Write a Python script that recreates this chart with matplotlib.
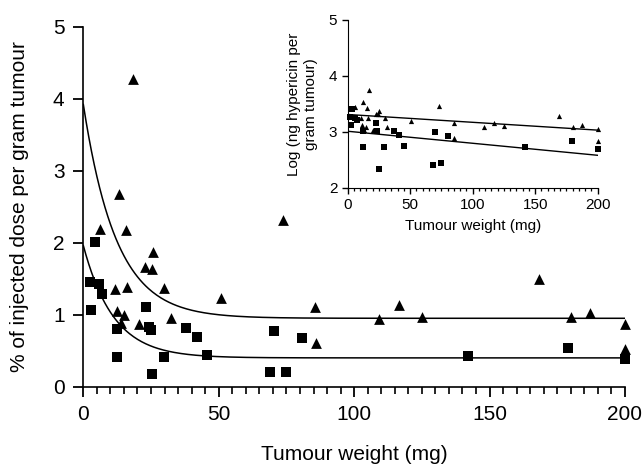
import matplotlib
matplotlib.use("Agg")
import matplotlib.pyplot as plt
from matplotlib.ticker import MultipleLocator
import numpy as np

plt.rcParams["font.family"] = ["Liberation Sans", "DejaVu Sans"]

# main panel: % of injected dose per gram tumour
tri_x = [18.2, 13.2, 6.2, 15.6, 73.6, 25.6, 22.9, 25.2, 11.6, 16.2, 29.8, 50.8,
         12.3, 15.1, 13.8, 20.7, 32.4, 85.4, 85.9, 109.1, 116.6, 125.0, 168.4,
         180.0, 186.9, 199.9, 199.9]
tri_y = [4.27, 2.67, 2.19, 2.17, 2.32, 1.87, 1.66, 1.63, 1.36, 1.38, 1.37, 1.23,
         1.05, 0.99, 0.88, 0.87, 0.95, 1.10, 0.61, 0.94, 1.14, 0.97, 1.50,
         0.97, 1.02, 0.87, 0.53]
sq_x = [4.3, 2.5, 5.7, 6.8, 2.8, 23.0, 12.5, 24.4, 25.0, 37.8, 41.8, 45.5,
        12.5, 29.8, 25.2, 70.4, 80.6, 68.9, 75.0, 142.1, 179.1, 199.9]
sq_y = [2.01, 1.45, 1.42, 1.29, 1.06, 1.11, 0.80, 0.83, 0.79, 0.81, 0.69, 0.44,
        0.41, 0.41, 0.17, 0.78, 0.67, 0.20, 0.21, 0.42, 0.54, 0.39]

# fitted decay curves: plateau, span, rate
tri_fit = (0.95, 2.97, 0.082)
sq_fit = (0.40, 1.56, 0.090)

# inset: log (ng hypericin per gram tumour)
in_tri_x = [17.3, 12.5, 5.8, 15.2, 25.0, 22.6, 24.4, 10.6, 16.0, 29.6, 11.7, 14.4,
            13.3, 20.0, 31.7, 50.4, 73.3, 85.3, 85.3, 109.0, 116.8, 125.0, 168.8,
            180.0, 187.2, 200.0, 200.0]
in_tri_y = [3.74, 3.53, 3.44, 3.43, 3.37, 3.31, 3.31, 3.24, 3.24, 3.24, 3.12, 3.09,
            3.04, 3.04, 3.09, 3.19, 3.47, 3.15, 2.89, 3.08, 3.16, 3.10, 3.28,
            3.09, 3.12, 3.05, 2.83]
in_sq_x = [2.1, 3.7, 2.4, 5.8, 7.2, 12.0, 12.0, 22.6, 23.7, 24.8, 29.0, 37.3,
           41.0, 45.0, 69.8, 68.5, 74.6, 80.2, 141.8, 179.4, 200.0]
in_sq_y = [3.27, 3.40, 3.13, 3.24, 3.22, 3.01, 2.72, 3.15, 3.01, 2.34, 2.72, 3.02,
           2.95, 2.75, 3.00, 2.41, 2.44, 2.93, 2.73, 2.84, 2.70]
in_tri_line = (3.31, 3.03)   # value at 0 and at 200 mg
in_sq_line = (3.01, 2.58)

fig = plt.figure(figsize=(6.42, 4.65), dpi=100)
ax = fig.add_axes([0.1298, 0.1684, 0.8437, 0.7742])

xs = np.linspace(0, 200, 400)
for p in (tri_fit, sq_fit):
    ax.plot(xs, p[0] + p[1] * np.exp(-p[2] * xs), color="black", lw=1.1, zorder=2)
ax.scatter(tri_x, tri_y, marker="^", s=60, color="black", linewidths=0, zorder=3, clip_on=False)
ax.scatter(sq_x, sq_y, marker="s", s=60, color="black", linewidths=0, zorder=3, clip_on=False)

ax.set_xlim(0, 200)
ax.set_ylim(0, 5)
ax.xaxis.set_major_locator(MultipleLocator(50))
ax.xaxis.set_minor_locator(MultipleLocator(5))
ax.yaxis.set_major_locator(MultipleLocator(1))
for s in ("top", "right"):
    ax.spines[s].set_visible(False)
for s in ("left", "bottom"):
    ax.spines[s].set_linewidth(1.2)
ax.tick_params(which="major", length=7.5, width=1.3, color="black", labelsize=15, pad=6)
ax.tick_params(which="minor", length=5, width=1.2, color="black")
ax.set_xlabel("Tumour weight (mg)", fontsize=15, labelpad=15)
ax.set_ylabel("% of injected dose per gram tumour", fontsize=15, labelpad=17)

# inset
ins = fig.add_axes([0.5416, 0.5963, 0.3894, 0.3607])
ins.plot([0, 200], in_tri_line, color="black", lw=1.0)
ins.plot([0, 200], in_sq_line, color="black", lw=1.0)
ins.scatter(in_tri_x, in_tri_y, marker="^", s=14, color="black", linewidths=0, zorder=3, clip_on=False)
ins.scatter(in_sq_x, in_sq_y, marker="s", s=16, color="black", linewidths=0, zorder=3, clip_on=False)
ins.set_xlim(0, 200)
ins.set_ylim(2, 5)
ins.xaxis.set_major_locator(MultipleLocator(50))
ins.xaxis.set_minor_locator(MultipleLocator(5))
ins.yaxis.set_major_locator(MultipleLocator(1))
ins.patch.set_alpha(0)
for s in ("top", "right"):
    ins.spines[s].set_visible(False)
ins.tick_params(which="major", length=4.5, width=1.0, color="black", labelsize=11, pad=3)
ins.tick_params(which="minor", length=2.5, width=0.9, color="black")
ins.set_xlabel("Tumour weight (mg)", fontsize=11, labelpad=5)
ins.set_ylabel("Log (ng hypericin per\ngram tumour)", fontsize=11, labelpad=8)

fig.savefig("out.png", dpi=100)
